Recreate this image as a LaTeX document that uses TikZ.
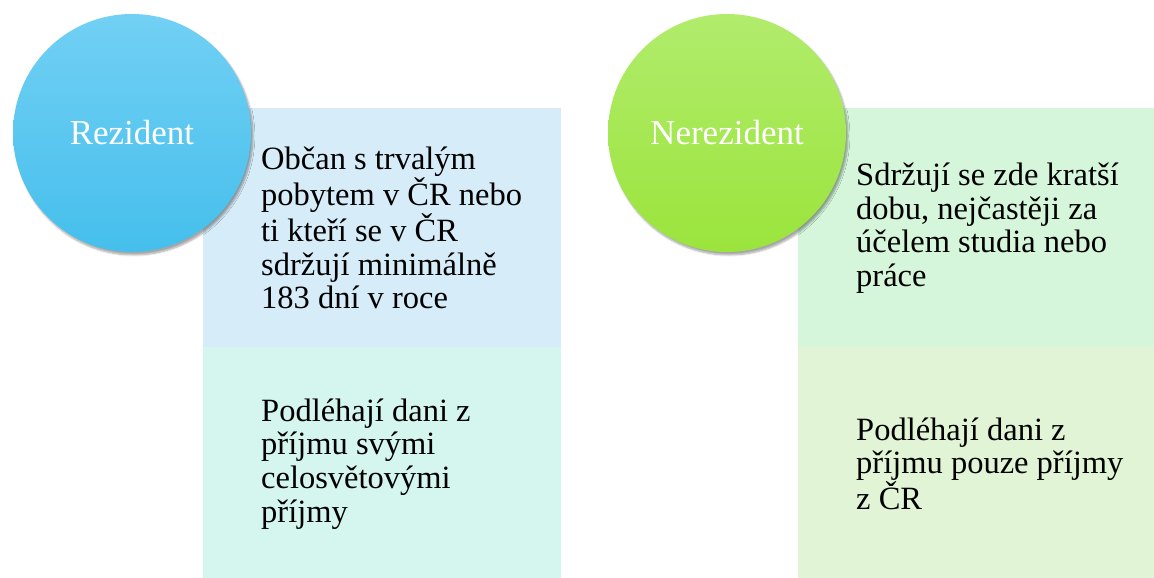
\documentclass[tikz,border=0pt]{standalone}
\usepackage{fontspec}
\setmainfont{Liberation Serif}
\usetikzlibrary{shadows.blur}
\definecolor{bluetop}{HTML}{72D0F4}
\definecolor{bluebot}{HTML}{45BFEC}
\definecolor{greentop}{HTML}{B1EC6C}
\definecolor{greenbot}{HTML}{9BE43C}
\definecolor{boxA}{HTML}{D6ECF8}
\definecolor{boxB}{HTML}{D5F6EF}
\definecolor{boxC}{HTML}{D5F6DB}
\definecolor{boxD}{HTML}{E1F5D6}
\tikzset{
  bubble/.style={circle, minimum size=238pt, inner sep=0pt, text=white,
    font=\fontsize{35}{38}\selectfont, blur shadow={shadow xshift=2pt, shadow yshift=-3pt, shadow blur steps=6, shadow opacity=35}},
  panel/.style={draw=none, inner sep=0pt, anchor=north west},
  body/.style={anchor=west, align=left, inner sep=0pt, text=black, font=\fontsize{32.5}{33.6}\selectfont}
}
\begin{document}
\begin{tikzpicture}[x=1pt,y=-1pt]
\useasboundingbox (0,0) rectangle (1154,578);
% left column
\node[panel, fill=boxA, minimum width=358pt, minimum height=239pt] (lt) at (203,108) {};
\node[panel, fill=boxB, minimum width=358pt, minimum height=231pt] (lb) at (203,347) {};
\node[body] (ltt) at (261,228) {Občan s trvalým\\pobytem v ČR nebo\\ti kteří se v ČR\\sdržují minimálně\\183 dní v roce};
\node[body] (lbt) at (261,464) {Podléhají dani z\\příjmu svými\\celosvětovými\\příjmy};
\node[bubble, top color=bluetop, bottom color=bluebot] (rez) at (132,133) {Rezident};
% right column
\node[panel, fill=boxC, minimum width=356pt, minimum height=239pt] (rt) at (798,108) {};
\node[panel, fill=boxD, minimum width=356pt, minimum height=231pt] (rb) at (798,347) {};
\node[body] (rtt) at (856,228) {Sdržují se zde kratší\\dobu, nejčastěji za\\účelem studia nebo\\práce};
\node[body] (rbt) at (856,464) {Podléhají dani z\\příjmu pouze příjmy\\z ČR};
\node[bubble, top color=greentop, bottom color=greenbot] (nerez) at (727,133) {Nerezident};
\end{tikzpicture}
\end{document}
